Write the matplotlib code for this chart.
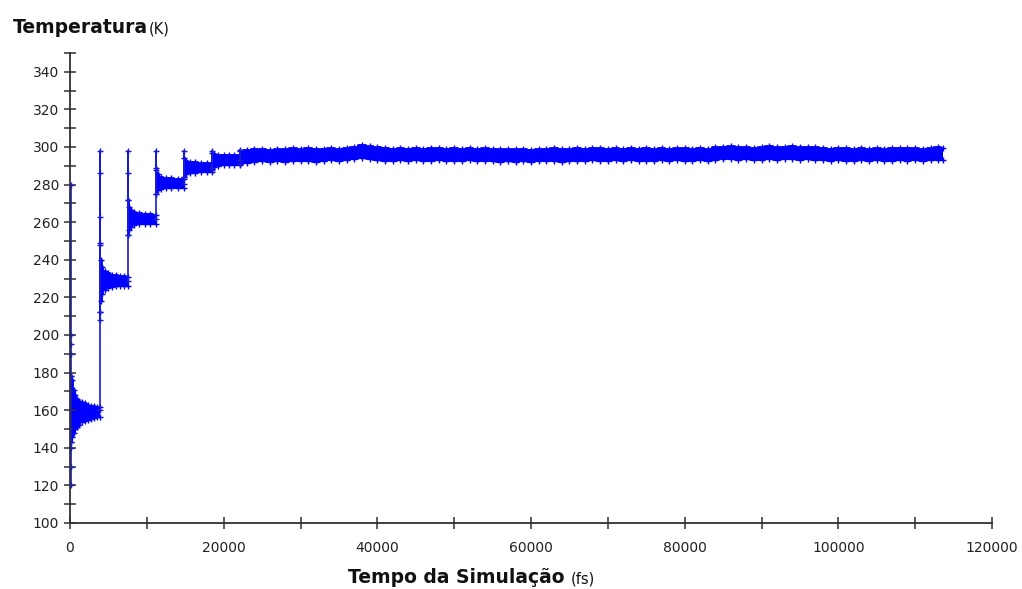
import matplotlib
matplotlib.use("Agg")
import matplotlib.pyplot as plt
from matplotlib.ticker import MultipleLocator

# ---------------- data ----------------
# equilibration segments: time (fs), upper / lower envelope of the noisy band (K)
seg1_t = [100, 300, 500, 700, 900, 1200, 1500, 1900, 2300, 2700, 3100, 3500, 3850]
seg1_hi = [178, 176, 171, 168, 166, 165, 164.5, 164, 163, 162.5, 162, 161.8, 161.5]
seg1_lo = [143, 146, 148, 150, 151, 152, 153.5, 154.5, 155, 155.5, 156, 156.2, 156.5]

seg2_t = [3850, 4000, 4200, 4500, 5000, 5500, 6000, 6500, 7000, 7550]
seg2_hi = [249, 240, 236, 234, 233, 232, 231.8, 231.5, 231.2, 231]
seg2_lo = [212, 218, 222, 224, 225, 225.5, 226, 226, 226.2, 226]

seg3_t = [7550, 7700, 7900, 8300, 9000, 9700, 10400, 11200]
seg3_hi = [272, 268, 266.5, 265.5, 265, 264.5, 264.5, 264]
seg3_lo = [253, 256, 257.5, 258.5, 259, 259, 259.2, 259]

seg4_t = [11200, 11400, 11800, 12500, 13200, 14000, 14850]
seg4_hi = [289, 285.5, 284, 283.5, 283.5, 283, 283]
seg4_lo = [275, 277, 277.5, 278, 278, 278.2, 278]

seg5_t = [14850, 15100, 15600, 16300, 17000, 17800, 18500]
seg5_hi = [294, 292.5, 292, 291.8, 291.5, 291.5, 291.5]
seg5_lo = [284, 285.5, 286, 286.3, 286.5, 286.5, 286.5]

seg6_t = [18500, 18800, 19300, 20000, 20700, 21400, 22150]
seg6_hi = [297, 296.3, 296, 295.8, 295.6, 295.5, 295.5]
seg6_lo = [288.5, 289.5, 290, 290.3, 290.5, 290.5, 290.5]

flat_t = [22150] + list(range(23000, 114000, 1000)) + [113600]
flat_hi = [298.0, 298.5, 298.8, 299.0, 298.6, 299.2, 298.9, 299.3,
           299.0, 299.4, 298.8, 299.2, 299.5, 299.0, 299.6, 300.2,
           300.8, 300.5, 299.8,
           299.4, 299.0, 299.6, 299.2, 299.5, 298.9, 299.3, 299.6, 299.0, 299.4,
           299.2, 299.7, 299.1, 299.3, 299.0,
           298.8, 299.2, 298.7, 299.0, 298.6, 299.1, 298.9, 299.3, 298.8, 299.2,
           299.4, 299.1, 299.6, 299.3, 299.0, 299.5, 299.2, 299.6, 299.1, 299.4,
           299.0, 299.5, 299.2, 299.6, 299.3, 299.1, 299.5, 299.2,
           299.8, 300.1, 300.4, 299.9, 300.2, 299.7, 300.0, 300.3, 299.8, 300.1,
           300.5, 299.9, 300.2, 299.8,
           299.5, 299.2, 299.6, 299.3, 299.0, 299.5, 299.2, 299.6, 299.1, 299.4,
           299.7, 299.3, 299.6, 299.2, 299.5, 299.8,
           299.6]
flat_lo = [291.0, 291.5, 292.0, 292.3, 291.8, 292.4, 292.1, 292.5,
           292.3, 292.7, 292.2, 292.6, 292.9, 292.4, 293.0, 293.6,
           294.2, 293.8, 293.2,
           292.8, 292.4, 293.0, 292.6, 292.9, 292.3, 292.7, 293.0, 292.4, 292.8,
           292.6, 293.1, 292.5, 292.7, 292.4,
           292.2, 292.6, 292.1, 292.4, 292.0, 292.5, 292.3, 292.7, 292.2, 292.6,
           292.8, 292.5, 293.0, 292.7, 292.4, 292.9, 292.6, 293.0, 292.5, 292.8,
           292.4, 292.9, 292.6, 293.0, 292.7, 292.5, 292.9, 292.6,
           293.1, 293.4, 293.7, 293.2, 293.5, 293.0, 293.3, 293.6, 293.1, 293.4,
           293.8, 293.2, 293.5, 293.1,
           292.9, 292.6, 293.0, 292.7, 292.4, 292.9, 292.6, 293.0, 292.5, 292.8,
           293.1, 292.7, 293.0, 292.6, 292.9, 293.2,
           293.0]

# velocity re-assignment spikes: time (fs) and sampled values along each spike (K)
spike_t = [100, 3850, 7550, 11200, 14850, 18500, 22150]
spike_vals = [
    [280, 200, 195, 190, 178, 143, 140, 130, 120],
    [160, 298, 286, 263, 248, 212, 208],
    [228.5, 298, 286, 272, 253],
    [261.5, 298, 288, 275],
    [280.5, 298, 284],
    [289, 298, 288],
    [293, 298.5, 291],
]

segments = [
    (seg1_t, seg1_hi, seg1_lo),
    (seg2_t, seg2_hi, seg2_lo),
    (seg3_t, seg3_hi, seg3_lo),
    (seg4_t, seg4_hi, seg4_lo),
    (seg5_t, seg5_hi, seg5_lo),
    (seg6_t, seg6_hi, seg6_lo),
    (flat_t, flat_hi, flat_lo),
]

x_ticks_major = [0, 20000, 40000, 60000, 80000, 100000, 120000]
y_ticks_major = list(range(100, 341, 20))

# ---------------- figure ----------------
W, H = 1022, 589
fig = plt.figure(figsize=(W / 100, H / 100), dpi=100)
ax = fig.add_axes([70 / W, 1 - 523 / H, (992 - 70) / W, (523 - 53) / H])

blue = "#0000ff"
line_blue = "#1a1ad0"

for t, hi, lo in segments:
    ax.fill_between(t, lo, hi, color=blue, linewidth=0, step="mid")
    ax.plot(t, hi, color=blue, lw=1.3, marker="+", ms=4, mew=1, drawstyle="steps-mid")
    ax.plot(t, lo, color=blue, lw=1.3, marker="+", ms=4, mew=1, drawstyle="steps-mid")

for t, vals in zip(spike_t, spike_vals):
    ax.plot([t] * len(vals), vals, color=line_blue, lw=1.2, marker="+", ms=4.5, mew=1)

ax.set_xlim(0, 120000)
ax.set_ylim(100, 350)
ax.set_xticks(x_ticks_major)
ax.set_yticks(y_ticks_major)
ax.xaxis.set_minor_locator(MultipleLocator(10000))
ax.yaxis.set_minor_locator(MultipleLocator(10))

for s in ["top", "right"]:
    ax.spines[s].set_visible(False)
for s in ["left", "bottom"]:
    ax.spines[s].set_color("#303030")
    ax.spines[s].set_linewidth(1.3)

ax.tick_params(axis="both", which="both", direction="inout", length=8, width=1.1,
               color="#303030", labelsize=10, labelcolor="#222222")
ax.tick_params(axis="x", which="both", pad=9)
ax.tick_params(axis="y", which="both", pad=4)

# axis titles
fig.canvas.draw()
r = fig.canvas.get_renderer()
yl = fig.text(13 / W, 1 - 33 / H, "Temperatura", fontsize=13.5, fontweight="bold",
              color="#111111", ha="left", va="baseline")
bb = yl.get_window_extent(renderer=r)
fig.text((bb.x1 + 1) / W, 1 - 33 / H, "(K)", fontsize=10.5, color="#111111",
         ha="left", va="baseline")

xl = fig.text(348 / W, 1 - 583 / H, "Tempo da Simulação", fontsize=13.5, fontweight="bold",
              color="#111111", ha="left", va="baseline")
bb = xl.get_window_extent(renderer=r)
fig.text((bb.x1 + 6) / W, 1 - 583 / H, "(fs)", fontsize=10.5, color="#111111",
         ha="left", va="baseline")

fig.savefig("out.png", dpi=100)
